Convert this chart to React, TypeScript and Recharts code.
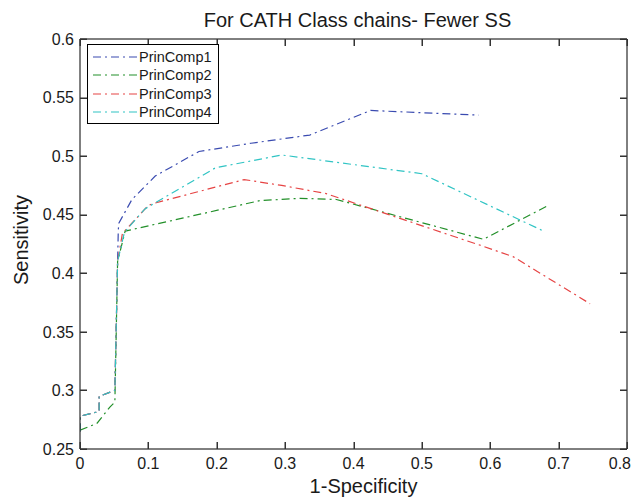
import React from 'react';
import { LineChart, Line, XAxis, YAxis, Legend } from 'recharts';

// --- values ---
const xTicks = [0, 0.1, 0.2, 0.3, 0.4, 0.5, 0.6, 0.7, 0.8];
const yTicks = [0.25, 0.3, 0.35, 0.4, 0.45, 0.5, 0.55, 0.6];

const pc1X = [0, 0, 0.028, 0.028, 0.051, 0.055, 0.056, 0.057, 0.076, 0.11, 0.174, 0.25, 0.336, 0.425, 0.583];
const pc1Y = [0.265, 0.278, 0.282, 0.295, 0.3, 0.41, 0.437, 0.443, 0.463, 0.483, 0.504, 0.511, 0.518, 0.539, 0.535];

const pc2X = [0, 0.025, 0.044, 0.051, 0.055, 0.066, 0.263, 0.322, 0.375, 0.59, 0.685];
const pc2Y = [0.266, 0.272, 0.286, 0.29, 0.41, 0.436, 0.462, 0.464, 0.463, 0.429, 0.458];

const pc3X = [0, 0, 0.028, 0.028, 0.051, 0.055, 0.062, 0.1, 0.11, 0.24, 0.295, 0.36, 0.59, 0.634, 0.746];
const pc3Y = [0.265, 0.278, 0.282, 0.295, 0.3, 0.41, 0.434, 0.458, 0.46, 0.48, 0.475, 0.468, 0.423, 0.414, 0.374];

const pc4X = [0, 0, 0.028, 0.028, 0.051, 0.055, 0.065, 0.095, 0.198, 0.295, 0.5, 0.678];
const pc4Y = [0.265, 0.278, 0.282, 0.295, 0.3, 0.41, 0.435, 0.455, 0.49, 0.501, 0.485, 0.436];

const toPoints = (xs: number[], ys: number[]) => xs.map((x, i) => ({ x, y: ys[i] }));

const series = [
  { name: 'PrinComp1', data: toPoints(pc1X, pc1Y), color: '#3a4bb0' },
  { name: 'PrinComp2', data: toPoints(pc2X, pc2Y), color: '#23902a' },
  { name: 'PrinComp3', data: toPoints(pc3X, pc3Y), color: '#e64444' },
  { name: 'PrinComp4', data: toPoints(pc4X, pc4Y), color: '#30c4c4' },
];

const FONT = '"Liberation Sans", Arial, Helvetica, sans-serif';
const DASH = '8 4 2 4';
const TICK_LEN = 7;
const TICK_W = 1.5;
const TICK_COLOR = '#333';
const LABEL_GAP = 8;

// tick renderers: inward tick mark + label (matlab look)
const BottomTick = (p: any) => {
  const last = p.payload.value === xTicks[xTicks.length - 1];
  const base = Math.round(p.y - LABEL_GAP);
  return (
    <g>
      <rect x={Math.round(p.x) - 0.5} y={base - TICK_LEN} width={TICK_W} height={TICK_LEN} fill={TICK_COLOR} />
      {/* last label is pulled inside the figure edge, like matlab does */}
      <text
        x={last ? p.x + 4 : p.x}
        y={p.y}
        dy={11.5}
        textAnchor={last ? 'end' : 'middle'}
        fontSize={16}
        fill="#1a1a1a"
        fontFamily={FONT}
      >
        {String(p.payload.value)}
      </text>
    </g>
  );
};

const LeftTick = (p: any) => (
  <g>
    <rect x={Math.round(p.x + 6)} y={Math.round(p.y) - 0.5} width={TICK_LEN} height={TICK_W} fill={TICK_COLOR} />
    <text x={p.x} y={p.y} dy={5.7} textAnchor="end" fontSize={16} fill="#1a1a1a" fontFamily={FONT}>
      {String(p.payload.value)}
    </text>
  </g>
);

const TopTick = (p: any) => (
  <rect x={Math.round(p.x) - 0.5} y={Math.round(p.y)} width={TICK_W} height={TICK_LEN} fill={TICK_COLOR} />
);

const RightTick = (p: any) => (
  <rect x={Math.round(p.x) - TICK_LEN} y={Math.round(p.y) - 0.5} width={TICK_LEN} height={TICK_W} fill={TICK_COLOR} />
);

// matlab-style legend box
const LegendBox = () => (
  <div
    style={{
      width: 132,
      height: 80,
      border: '1px solid #000',
      boxSizing: 'border-box',
      background: '#fff',
      position: 'relative',
      fontFamily: FONT,
    }}
  >
    {series.map((s, i) => (
      <div
        key={s.name}
        style={{ position: 'absolute', left: 0, top: 3 + i * 18.4, height: 18, width: 130 }}
      >
        <svg width={50} height={18} style={{ position: 'absolute', left: 0, top: 0 }}>
          <line x1={5} y1={9} x2={49} y2={9} stroke={s.color} strokeWidth={1.2} strokeDasharray={DASH} />
        </svg>
        <span
          style={{
            position: 'absolute',
            left: 51,
            top: 0,
            lineHeight: '18px',
            fontSize: 14.5,
            color: '#1a1a1a',
            whiteSpace: 'nowrap',
          }}
        >
          {s.name}
        </span>
      </div>
    ))}
  </div>
);

export default function App() {
  return (
    <div
      style={{
        position: 'absolute',
        left: 0,
        top: 0,
        width: 633,
        height: 498,
        background: '#fff',
        fontFamily: FONT,
        color: '#1a1a1a',
      }}
    >
      <LineChart width={633} height={498} margin={{ top: 39, right: 6, bottom: 0, left: 0 }}>
        <XAxis
          xAxisId="b"
          dataKey="x"
          type="number"
          domain={[0, 0.8]}
          ticks={xTicks}
          interval={0}
          allowDataOverflow
          height={49}
          tickSize={0}
          tickMargin={LABEL_GAP}
          tick={<BottomTick />}
          axisLine={{ stroke: '#000' }}
          tickLine={false}
        />
        <YAxis
          yAxisId="l"
          type="number"
          domain={[0.25, 0.6]}
          ticks={yTicks}
          interval={0}
          allowDataOverflow
          width={80}
          tickSize={0}
          tickMargin={6}
          tick={<LeftTick />}
          axisLine={{ stroke: '#000' }}
          tickLine={false}
        />
        <XAxis
          xAxisId="t"
          orientation="top"
          mirror
          dataKey="x"
          type="number"
          domain={[0, 0.8]}
          ticks={xTicks}
          interval={0}
          allowDataOverflow
          height={10}
          tickSize={0}
          tickMargin={0}
          tick={<TopTick />}
          axisLine={{ stroke: '#000' }}
          tickLine={false}
        />
        <YAxis
          yAxisId="r"
          orientation="right"
          mirror
          type="number"
          domain={[0.25, 0.6]}
          ticks={yTicks}
          interval={0}
          allowDataOverflow
          width={10}
          tickSize={0}
          tickMargin={0}
          tick={<RightTick />}
          axisLine={{ stroke: '#000' }}
          tickLine={false}
        />
        <Legend
          layout="vertical"
          align="center"
          verticalAlign="middle"
          content={() => <LegendBox />}
          wrapperStyle={{ left: 87, top: 44, width: 132, height: 80 }}
        />
        {series.map((s) => (
          <Line
            key={s.name}
            xAxisId="b"
            yAxisId="l"
            data={s.data}
            dataKey="y"
            name={s.name}
            type="linear"
            stroke={s.color}
            strokeWidth={1.2}
            strokeDasharray={DASH}
            dot={false}
            activeDot={false}
            isAnimationActive={false}
          />
        ))}
      </LineChart>

      {/* title and axis labels */}
      <div
        style={{
          position: 'absolute',
          left: 357.5,
          top: 10,
          transform: 'translateX(-50%)',
          fontSize: 20,
          lineHeight: '20px',
          whiteSpace: 'nowrap',
        }}
      >
        For CATH Class chains- Fewer SS
      </div>
      <div
        style={{
          position: 'absolute',
          left: 363.5,
          top: 476,
          transform: 'translateX(-50%)',
          fontSize: 20,
          lineHeight: '20px',
          whiteSpace: 'nowrap',
        }}
      >
        1-Specificity
      </div>
      <div
        style={{
          position: 'absolute',
          left: 21,
          top: 240,
          transform: 'translate(-50%, -50%) rotate(-90deg)',
          fontSize: 20,
          lineHeight: '20px',
          whiteSpace: 'nowrap',
        }}
      >
        Sensitivity
      </div>
    </div>
  );
}
